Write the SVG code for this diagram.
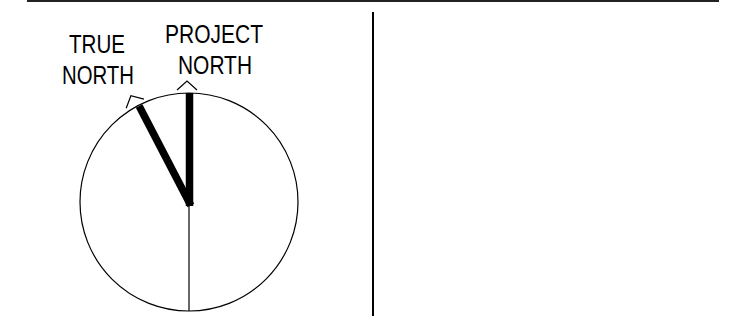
<svg xmlns="http://www.w3.org/2000/svg" width="732" height="323" viewBox="0 0 732 323">
<style>
.lbl{font-family:"Liberation Sans Narrow","Liberation Sans",Arial,sans-serif;font-size:25px;fill:#000;text-anchor:middle}
.thin{stroke:#000;stroke-width:1.2;fill:none}
.needle{stroke:#000;stroke-width:7.5;fill:none;stroke-linecap:butt}
.caret{stroke:#000;stroke-width:1.2;fill:none}
</style>
<rect width="732" height="323" fill="#fff"/>
<g id="frame">
<line x1="27" y1="1" x2="719" y2="1" stroke="#222" stroke-width="2"/>
<line x1="373" y1="12" x2="373" y2="316" stroke="#000" stroke-width="2"/>
</g>
<g id="compass">
<circle cx="189" cy="202" r="109" class="thin"/>
<line x1="189" y1="205" x2="189" y2="311" class="thin"/>
</g>
<g id="connectors">
<g id="project-north-needle">
<line x1="189.5" y1="206" x2="189.5" y2="93" class="needle"/>
<polyline points="177,90 187,81 197,90" class="caret"/>
</g>
<g id="true-north-needle" transform="rotate(-27.5 189 203)">
<line x1="189.5" y1="206" x2="189.5" y2="94" class="needle"/>
<polyline points="177,90 187,81 197,90" class="caret"/>
</g>
</g>
<g id="true-north-label">
<text class="lbl" x="97" y="53" textLength="56" lengthAdjust="spacingAndGlyphs">TRUE</text>
<text class="lbl" x="98" y="84" textLength="72" lengthAdjust="spacingAndGlyphs">NORTH</text>
</g>
<g id="project-north-label">
<text class="lbl" x="214" y="43" textLength="98" lengthAdjust="spacingAndGlyphs">PROJECT</text>
<text class="lbl" x="215" y="74" textLength="74" lengthAdjust="spacingAndGlyphs">NORTH</text>
</g>
</svg>
